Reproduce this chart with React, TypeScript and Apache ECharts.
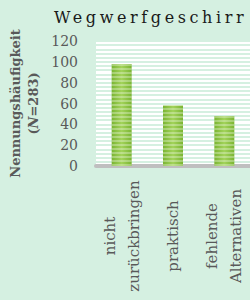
import React, { useEffect, useRef } from "react";
import * as echarts from "echarts";

const titleText = "Wegwerfgeschirr";
const categories = ["nicht\nzurückbringen", "praktisch", "fehlende\nAlternativen"];
const values = [98, 58, 48];
const yTicks = [0, 20, 40, 60, 80, 100, 120];

const BG = "#d5f0e1";
const GREY = "#595959";
const FONT = "DejaVu Serif";

export default function App() {
  const ref = useRef<HTMLDivElement>(null);
  useEffect(() => {
    if (!ref.current) return;
    const chart = echarts.init(ref.current, undefined, { renderer: "svg" });
    chart.setOption({
      animation: false,
      backgroundColor: BG,
      title: {
        text: titleText,
        left: 49,
        top: 4,
        textStyle: { fontFamily: FONT, fontSize: 16, fontWeight: "normal", color: "#1a1a1a" },
      },
      grid: { left: 96, top: 41, bottom: 134, width: 157, backgroundColor: "#ffffff", show: true, borderWidth: 0 },
      xAxis: {
        type: "category",
        data: categories,
        axisLine: { lineStyle: { color: "#bfbfbf", width: 4 } },
        axisTick: { show: false },
        axisLabel: {
          rotate: 90,
          margin: 14,
          interval: 0,
          color: GREY,
          fontFamily: FONT,
          fontSize: 15,
          lineHeight: 24,
          formatter: (v: string) => v.split("\n").map((l) => `{a|${l}}`).join("\n"),
          rich: { a: { width: 112, align: "center", fontFamily: FONT, fontSize: 15, color: GREY, lineHeight: 24 } },
        },
      },
      yAxis: {
        type: "value",
        min: yTicks[0],
        max: yTicks[yTicks.length - 1],
        interval: 20,
        axisLine: { show: false },
        axisTick: { show: false },
        axisLabel: { color: GREY, fontFamily: FONT, fontSize: 14, margin: 18 },
        splitLine: { show: true, lineStyle: { color: BG, width: 2 } },
        minorTick: { show: false, splitNumber: 5 },
        minorSplitLine: { show: true, lineStyle: { color: BG, width: 2 } },
        name: "{b|Nennungshäufigkeit}\n{b|(}{i|N}{b|=283)}",
        nameLocation: "middle",
        nameRotate: 90,
        nameGap: 41,
        nameTextStyle: {
          rich: {
            b: { fontFamily: FONT, fontSize: 13, fontWeight: "bold", color: GREY, lineHeight: 18 },
            i: { fontFamily: FONT, fontSize: 13, fontWeight: "bold", fontStyle: "italic", color: GREY, lineHeight: 18 },
          },
        },
      },
      series: [
        {
          type: "bar",
          data: values,
          barWidth: 20,
          itemStyle: {
            color: new echarts.graphic.LinearGradient(0, 0, 1, 0, [
              { offset: 0, color: "#7ab532" },
              { offset: 0.5, color: "#a2d35a" },
              { offset: 1, color: "#7ab532" },
            ]),
            decal: {
              symbol: "rect",
              symbolSize: 1,
              dashArrayX: [1, 0],
              dashArrayY: [2, 2],
              color: "rgba(255,255,255,0.3)",
            },
          },
        },
      ],
    });
    const texts = ref.current.querySelectorAll("text");
    texts.forEach((t) => {
      if (t.textContent === titleText) (t as SVGTextElement).style.letterSpacing = "3.6px";
    });
    return () => chart.dispose();
  }, []);
  return <div ref={ref} style={{ width: 250, height: 300, position: "absolute", left: 0, top: 0 }} />;
}
